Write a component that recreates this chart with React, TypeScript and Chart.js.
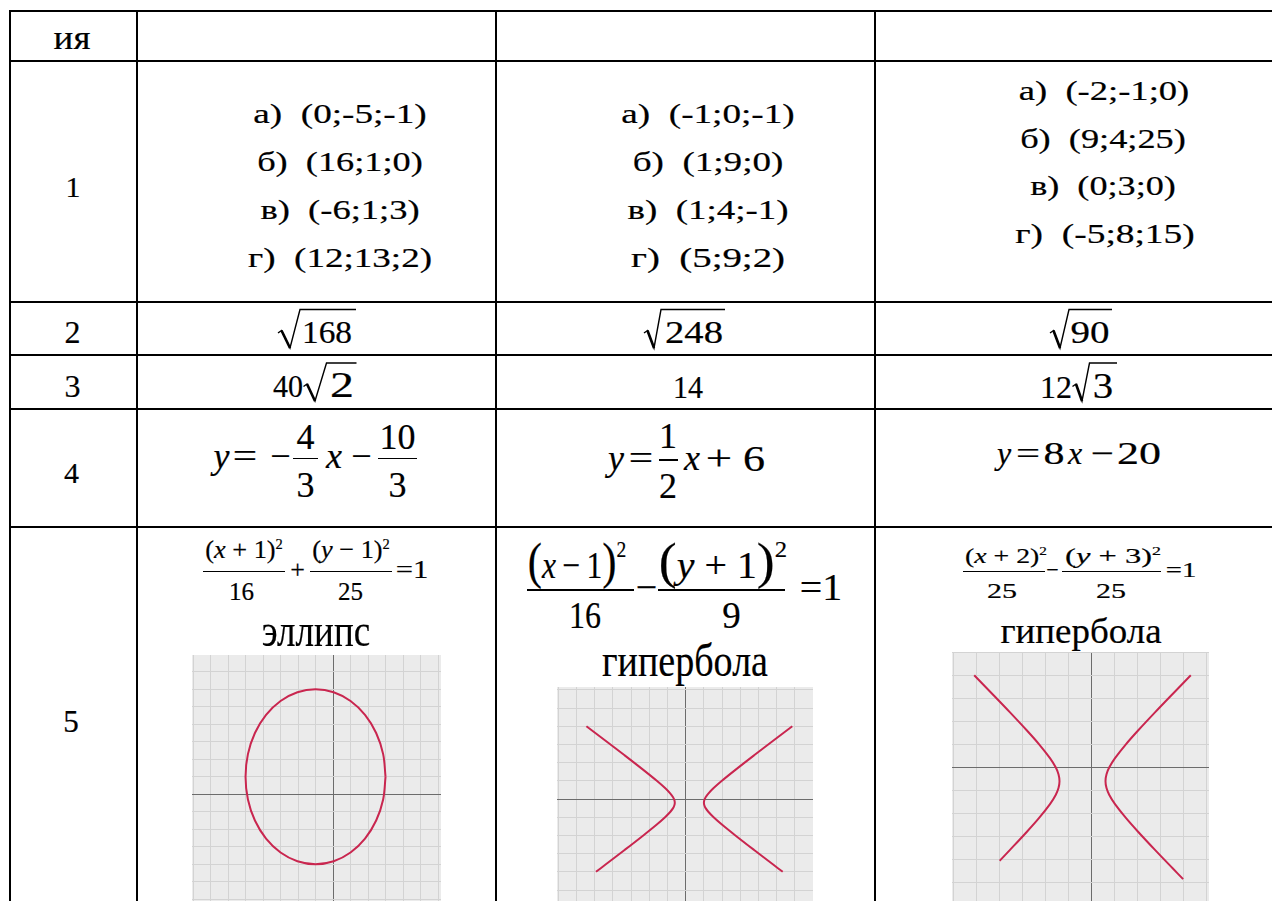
import React, { useEffect, useLayoutEffect, useRef } from "react";
import { Chart, registerables } from "chart.js";

Chart.register(...registerables);

// ---------- data ----------
// ellipse (x+1)^2/16 + (y-1)^2/25 = 1
const ellipsePts: number[][] = [
  [3, 1], [2.864, 2.294], [2.464, 3.5], [1.828, 4.536], [1, 5.33], [0.036, 5.83],
  [-1, 6], [-2.036, 5.83], [-3, 5.33], [-3.828, 4.536], [-4.464, 3.5], [-4.864, 2.294],
  [-5, 1], [-4.864, -0.294], [-4.464, -1.5], [-3.828, -2.536], [-3, -3.33], [-2.036, -3.83],
  [-1, -4], [0.036, -3.83], [1, -3.33], [1.828, -2.536], [2.464, -1.5], [2.864, -0.294], [3, 1],
];

// hyperbola (x-1)^2/16 - (y+1)^2/9 = 1
const hyp2Right: number[][] = [
  [29.28, 20], [24.02, 16], [18.79, 12], [13.65, 8], [9.94, 5], [7.67, 3], [6.21, 1.5],
  [5.47, 0.5], [5.14, -0.2], [5, -1], [5.14, -1.8], [5.47, -2.5], [6.21, -3.5], [7.67, -5],
  [9.94, -7], [13.65, -10], [18.79, -14], [24.02, -18], [26.65, -20],
];
const hyp2Left: number[][] = [
  [-27.28, 20], [-22.02, 16], [-16.79, 12], [-11.65, 8], [-7.94, 5], [-5.67, 3], [-4.21, 1.5],
  [-3.47, 0.5], [-3.14, -0.2], [-3, -1], [-3.14, -1.8], [-3.47, -2.5], [-4.21, -3.5], [-5.67, -5],
  [-7.94, -7], [-11.65, -10], [-16.79, -14], [-22.02, -18], [-24.65, -20],
];

// hyperbola (x+2)^2/25 - (y+3)^2/25 = 1
const hyp3Right: number[][] = [
  [21.54, 20], [17.65, 16], [13.81, 12], [10.08, 8], [7.43, 5], [5.07, 2], [3.83, 0],
  [3.22, -1.5], [3, -3], [3.22, -4.5], [3.83, -6], [5.07, -8], [7.43, -11], [10.08, -14],
  [13.81, -18], [17.65, -22], [19.88, -24.3],
];
const hyp3Left: number[][] = [
  [-25.54, 20], [-21.65, 16], [-17.81, 12], [-14.08, 8], [-11.43, 5], [-9.07, 2], [-7.83, 0],
  [-7.22, -1.5], [-7, -3], [-7.22, -4.5], [-7.83, -6], [-9.07, -8], [-11.43, -11], [-14.08, -14],
  [-17.81, -18], [-20, -20.3],
];

// grid lines of the three little graphs
const grid1X = [-8, -7, -6, -5, -4, -3, -2, -1, 0, 1, 2, 3, 4, 5, 6];
const grid1Y = [-7, -6, -5, -4, -3, -2, -1, 0, 1, 2, 3, 4, 5, 6, 7];
const grid2X = [-35, -30, -25, -20, -15, -10, -5, 0, 5, 10, 15, 20, 25, 30];
const grid2Y = [-35, -30, -25, -20, -15, -10, -5, 0, 5, 10, 15, 20, 25, 30];
const grid3X = [-30, -25, -20, -15, -10, -5, 0, 5, 10, 15, 20, 25];
const grid3Y = [-30, -25, -20, -15, -10, -5, 0, 5, 10, 15, 20, 25];

// table texts
const rowNumbers = ["1", "2", "3", "4", "5"];
const answers1Col1 = ["а)  (0;-5;-1)", "б)  (16;1;0)", "в)  (-6;1;3)", "г)  (12;13;2)"];
const answers1Col2 = ["а)  (-1;0;-1)", "б)  (1;9;0)", "в)  (1;4;-1)", "г)  (5;9;2)"];
const answers1Col3 = ["а)  (-2;-1;0)", "б)  (9;4;25)", "в)  (0;3;0)", "г)  (-5;8;15)"];
const curveNames = ["эллипс", "гипербола", "гипербола"];

// ---------- style ----------
const FONT = '"Liberation Serif", "Times New Roman", serif';
const CURVE = "#c9264f";
const BG = "#ebebeb";
const GRID = "#d3d3d3";
const AXIS = "#6c6c6c";

// ---------- helpers ----------
function T({ x, y, size, w, italic, children }: any) {
  const ref = useRef<HTMLSpanElement>(null);
  useLayoutEffect(() => {
    const el = ref.current;
    if (!el || !w) return;
    const mw = el.offsetWidth;
    if (mw > 0) el.style.transform = `translateX(-50%) scaleX(${w / mw})`;
  }, [w]);
  return (
    <span
      ref={ref}
      style={{
        position: "absolute",
        left: x,
        top: y - 0.8375 * size,
        fontSize: size,
        lineHeight: 1,
        whiteSpace: "pre",
        fontStyle: italic ? "italic" : "normal",
        fontFamily: FONT,
        transform: "translateX(-50%)",
        transformOrigin: "50% 50%",
        color: "#000",
        WebkitTextStroke: "0.2px #000",
      }}
    >
      {children}
    </span>
  );
}

const I = ({ children }: any) => <span style={{ fontStyle: "italic" }}>{children}</span>;
const Sup = ({ children, size, raise }: any) => (
  <span style={{ fontSize: `${size}em`, position: "relative", top: `-${raise}em` }}>{children}</span>
);
const Big = ({ children }: any) => (
  <span style={{ fontSize: "1.35em", lineHeight: 0 }}>{children}</span>
);

function Rect({ l, t, w, h }: any) {
  return <div style={{ position: "absolute", left: l, top: t, width: w, height: h, background: "#000" }} />;
}
function Bar({ x1, x2, y, th = 1.5 }: any) {
  return <Rect l={x1} t={y - th / 2} w={x2 - x1} h={th} />;
}

function Rad({ x0, yT, xv, yB, xt, yTop, x1 }: any) {
  const a = `M ${x0} ${yT} L ${x0 + 3.5} ${yT - 2.5} L ${xv} ${yB} L ${xt} ${yTop} L ${x1} ${yTop}`;
  const b = `M ${x0 + 3.5} ${yT - 2.5} L ${xv} ${yB}`;
  return (
    <g fill="none" stroke="#000">
      <path d={a} strokeWidth={1.4} strokeLinejoin="miter" />
      <path d={b} strokeWidth={2.6} />
    </g>
  );
}

function axisOpts(min: number, max: number, ticks: number[]) {
  return {
    type: "linear",
    min,
    max,
    afterBuildTicks: (ax: any) => {
      ax.ticks = ticks.map((v) => ({ value: v }));
    },
    ticks: { display: false },
    grid: {
      color: (c: any) => (c.tick && c.tick.value === 0 ? AXIS : GRID),
      lineWidth: 1,
      drawTicks: false,
    },
    border: { display: false },
  };
}

function Plot({ left, top, width, height, xMin, xMax, yMin, yMax, gx, gy, series }: any) {
  const ref = useRef<HTMLCanvasElement>(null);
  useEffect(() => {
    const chart = new Chart(ref.current as HTMLCanvasElement, {
      type: "scatter",
      data: {
        datasets: series.map((pts: number[][]) => ({
          data: pts.map(([x, y]) => ({ x, y })),
          showLine: true,
          borderColor: CURVE,
          borderWidth: 2,
          pointRadius: 0,
          pointHoverRadius: 0,
          tension: 0.35,
          fill: false,
        })),
      },
      options: {
        responsive: false,
        animation: false,
        devicePixelRatio: 1,
        events: [],
        layout: { padding: 0 },
        plugins: { legend: { display: false }, tooltip: { enabled: false } },
        scales: {
          x: axisOpts(xMin, xMax, gx) as any,
          y: axisOpts(yMin, yMax, gy) as any,
        },
      },
    } as any);
    return () => chart.destroy();
  }, []);
  return (
    <canvas
      ref={ref}
      width={width}
      height={height}
      style={{ position: "absolute", left, top, width, height, background: BG }}
    />
  );
}

export default function App() {
  const listBase = [123, 171, 219.5, 267.5];
  const listBase3 = [100, 148, 195, 243];
  const w1 = [174, 166, 159, 184];
  const w2 = [174, 151, 161, 154];
  const w3 = [171, 166, 146, 179];
  const cx3 = [1103.5, 1103, 1103, 1104.5];
  return (
    <div
      style={{
        position: "fixed",
        left: 0,
        top: 0,
        width: 1272,
        height: 901,
        overflow: "hidden",
        background: "#fff",
        fontFamily: FONT,
      }}
    >
      {/* graphs */}
      <Plot left={192} top={655} width={249} height={260} xMin={-8.06} xMax={6.17} yMin={-6.9} yMax={7.96}
        gx={grid1X} gy={grid1Y} series={[ellipsePts]} />
      <Plot left={557} top={687} width={256} height={240} xMin={-35.36} xMax={34.97} yMin={-35.16} yMax={30.77}
        gx={grid2X} gy={grid2Y} series={[hyp2Left, hyp2Right]} />
      <Plot left={952} top={652} width={257} height={260} xMin={-30.37} xMax={25.5} yMin={-31.45} yMax={25.07}
        gx={grid3X} gy={grid3Y} series={[hyp3Left, hyp3Right]} />

      {/* table borders */}
      <Rect l={9} t={10} w={1263} h={2} />
      <Rect l={9} t={60} w={1263} h={2} />
      <Rect l={9} t={301} w={1263} h={2} />
      <Rect l={9} t={354} w={1263} h={2} />
      <Rect l={9} t={408} w={1263} h={2} />
      <Rect l={9} t={526} w={1263} h={2} />
      <Rect l={9} t={10} w={2} h={891} />
      <Rect l={136} t={10} w={2} h={891} />
      <Rect l={495} t={10} w={2} h={891} />
      <Rect l={874} t={10} w={2} h={891} />

      {/* header + row numbers */}
      <T x={72} y={50} size={33} w={37}>ия</T>
      <T x={73} y={197} size={30}>{rowNumbers[0]}</T>
      <T x={72.5} y={343} size={32}>{rowNumbers[1]}</T>
      <T x={72.5} y={396.5} size={32}>{rowNumbers[2]}</T>
      <T x={71.5} y={483} size={30}>{rowNumbers[3]}</T>
      <T x={71} y={732} size={31}>{rowNumbers[4]}</T>

      {/* row 1 */}
      {answers1Col1.map((s, i) => (
        <T key={"a" + i} x={340} y={listBase[i]} size={28} w={w1[i]}>{s}</T>
      ))}
      {answers1Col2.map((s, i) => (
        <T key={"b" + i} x={708} y={listBase[i]} size={28} w={w2[i]}>{s}</T>
      ))}
      {answers1Col3.map((s, i) => (
        <T key={"c" + i} x={cx3[i]} y={listBase3[i]} size={28} w={w3[i]}>{s}</T>
      ))}

      {/* row 2 and 3: radicands */}
      <T x={327} y={343} size={32} w={50}>168</T>
      <T x={694} y={343} size={32} w={58}>248</T>
      <T x={1090} y={343} size={32} w={39}>90</T>
      <T x={288} y={397} size={32} w={30}>40</T>
      <T x={342} y={397} size={36} w={24}>2</T>
      <T x={688} y={398} size={32} w={30}>14</T>
      <T x={1056} y={398} size={32} w={32}>12</T>
      <T x={1103} y={398} size={35} w={21}>3</T>

      {/* row 4, col 1 */}
      <T x={221.5} y={468} size={36} italic>y</T>
      <T x={244.5} y={468} size={36} w={24}>=</T>
      <T x={280.5} y={468} size={36}>−</T>
      <Bar x1={293} x2={318} y={458.3} />
      <T x={305.5} y={449} size={36}>4</T>
      <T x={305.5} y={496.7} size={36}>3</T>
      <T x={334} y={468} size={36} italic>x</T>
      <T x={361.5} y={468} size={36}>−</T>
      <Bar x1={378} x2={417} y={458.3} />
      <T x={397.5} y={449} size={36}>10</T>
      <T x={397.5} y={497} size={36}>3</T>

      {/* row 4, col 2 */}
      <T x={616} y={470} size={36} italic>y</T>
      <T x={641} y={470} size={36} w={24}>=</T>
      <Bar x1={658.5} x2={678} y={460} />
      <T x={668} y={448.3} size={36}>1</T>
      <T x={668} y={498.3} size={36}>2</T>
      <T x={692} y={470} size={36} italic>x</T>
      <T x={719} y={470} size={36} w={26}>+</T>
      <T x={754} y={470.7} size={36} w={22}>6</T>

      {/* row 4, col 3 */}
      <T x={1004} y={463.3} size={32} italic>y</T>
      <T x={1027.5} y={463.3} size={32} w={24}>=</T>
      <T x={1054} y={463.3} size={32} w={21}>8</T>
      <T x={1075} y={463.3} size={32} italic>x</T>
      <T x={1102} y={463.3} size={32} w={23}>−</T>
      <T x={1139} y={463.3} size={32} w={44}>20</T>

      {/* row 5, col 1 formula */}
      <T x={244} y={559} size={26} w={78}>(<I>x</I> + 1)<Sup size={0.55} raise={0.64}>2</Sup></T>
      <Bar x1={203} x2={285} y={571.7} th={1.2} />
      <T x={241.5} y={600} size={25}>16</T>
      <T x={297.5} y={579} size={26}>+</T>
      <T x={351} y={559} size={26} w={78}>(<I>y</I> − 1)<Sup size={0.55} raise={0.64}>2</Sup></T>
      <Bar x1={310} x2={391.7} y={571.7} th={1.2} />
      <T x={350.5} y={600} size={25}>25</T>
      <T x={411.5} y={579} size={26} w={33}>=1</T>
      <T x={316} y={646.7} size={47} w={108}>{curveNames[0]}</T>

      {/* row 5, col 2 formula */}
      <T x={576.5} y={578} size={38} w={99}><Big>(</Big><I>x</I>{"\u2009−\u2009"}1<Big>)</Big><Sup size={0.62} raise={0.89}>2</Sup></T>
      <Bar x1={527} x2={634} y={590} th={2} />
      <T x={585} y={628} size={37} w={32}>16</T>
      <T x={646.5} y={599.5} size={38}>−</T>
      <T x={722.7} y={578} size={38} w={128}><Big>(</Big><I>y</I> + 1<Big>)</Big><Sup size={0.62} raise={0.89}>2</Sup></T>
      <Bar x1={658} x2={785} y={590} th={2} />
      <T x={731.6} y={628} size={37}>9</T>
      <T x={821} y={599.5} size={38} w={42}>=1</T>
      <T x={684.5} y={676.7} size={47} w={166}>{curveNames[1]}</T>

      {/* row 5, col 3 formula */}
      <T x={1006} y={563} size={22} w={82}>(<I>x</I> + 2)<Sup size={0.55} raise={0.64}>2</Sup></T>
      <Bar x1={963} x2={1045} y={571.7} th={1} />
      <T x={1002} y={598} size={22} w={30}>25</T>
      <T x={1052.5} y={577} size={22}>−</T>
      <T x={1113} y={563} size={22} w={96}>(<I>y</I> + 3)<Sup size={0.55} raise={0.64}>2</Sup></T>
      <Bar x1={1062} x2={1161} y={571.7} th={1} />
      <T x={1111} y={598} size={22} w={30}>25</T>
      <T x={1181} y={577} size={22} w={30}>=1</T>
      <T x={1080.7} y={643} size={36} w={161}>{curveNames[2]}</T>

      {/* radicals */}
      <svg width={1272} height={901} style={{ position: "absolute", left: 0, top: 0, pointerEvents: "none" }}>
        <Rad x0={278} yT={333} xv={290} yB={348} xt={300} yTop={309.5} x1={356} />
        <Rad x0={644} yT={333} xv={654} yB={348} xt={661} yTop={309.5} x1={725} />
        <Rad x0={1050} yT={333} xv={1060} yB={348} xt={1069} yTop={309.5} x1={1112} />
        <Rad x0={303.5} yT={386.5} xv={315} yB={401} xt={326.5} yTop={363} x1={356.5} />
        <Rad x0={1072.5} yT={386.5} xv={1082} yB={401} xt={1089.5} yTop={363} x1={1117} />
      </svg>
    </div>
  );
}
